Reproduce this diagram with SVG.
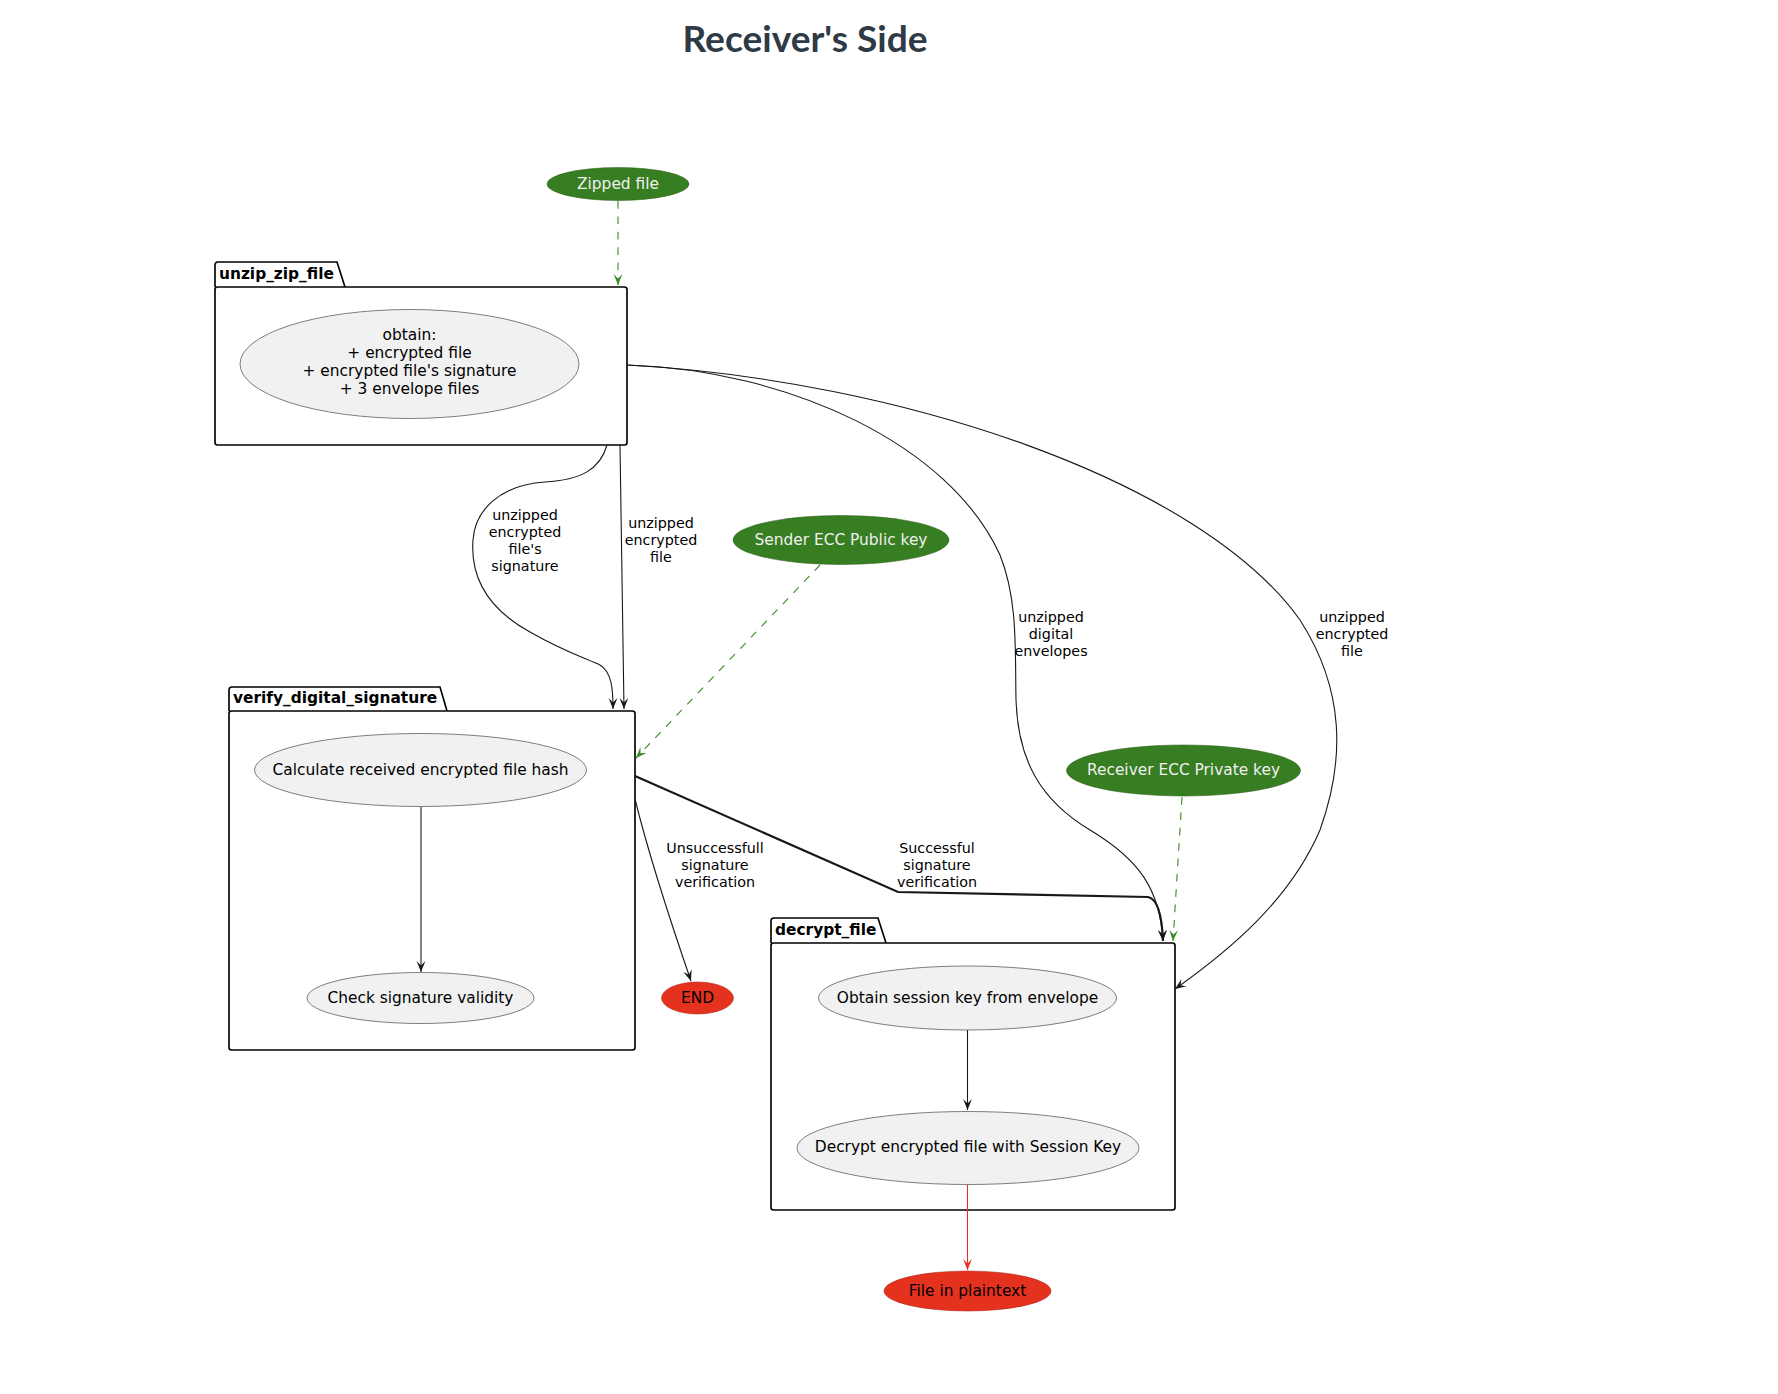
<svg xmlns="http://www.w3.org/2000/svg" width="1778" height="1394" viewBox="0 0 1778 1394">
<style>
text{font-family:"DejaVu Sans",Verdana,sans-serif;}
.uc{fill:#F1F1F1;stroke:#181818;stroke-width:0.55;}
.ucg{fill:#377D22;stroke:#2a5f1a;stroke-width:0.55;}
.ucr{fill:#E5321F;stroke:#a8261a;stroke-width:0.55;}
.t{font-size:15.4px;fill:#000;text-anchor:middle;}
.tw{font-size:15.4px;fill:#F0F0F0;text-anchor:middle;}
.lbl{font-size:14.3px;fill:#000;text-anchor:middle;}
.pk{fill:#FFFFFF;stroke:#000;stroke-width:1.65;}
.pkt{font-size:15.4px;font-weight:bold;fill:#000;}
.e{fill:none;stroke:#181818;stroke-width:1.1;}
.eg{fill:none;stroke:#3A8A24;stroke-width:1.1;stroke-dasharray:7.7,7.7;}
.er{fill:none;stroke:#E5321F;stroke-width:1.1;}
</style>
<defs>
<marker id="ab" viewBox="0 0 12 10" refX="11" refY="5" markerWidth="12" markerHeight="10" orient="auto" markerUnits="userSpaceOnUse"><path d="M0,0.6 L11,5 L0,9.4 L4.4,5 Z" fill="#181818"/></marker>
<marker id="ag" viewBox="0 0 12 10" refX="11" refY="5" markerWidth="12" markerHeight="10" orient="auto" markerUnits="userSpaceOnUse"><path d="M0,0.6 L11,5 L0,9.4 L4.4,5 Z" fill="#3A8A24"/></marker>
<marker id="ar" viewBox="0 0 12 10" refX="11" refY="5" markerWidth="12" markerHeight="10" orient="auto" markerUnits="userSpaceOnUse"><path d="M0,0.6 L11,5 L0,9.4 L4.4,5 Z" fill="#E5321F"/></marker>
</defs>
<rect width="1778" height="1394" fill="#FFFFFF"/>
<text x="805" y="51.5" style="font-family:Lato,'Liberation Sans',sans-serif;font-weight:bold;font-size:37.1px;fill:#2E3A45;text-anchor:middle;">Receiver's Side</text>

<g id="pkg_unzip_zip_file">
<path class="pk" d="M215,287 L215,265 Q215,262 218,262 L337,262 L345,287"/>
<rect class="pk" x="215" y="287" width="412" height="158" rx="2.5"/>
<text class="pkt" x="219" y="278.5">unzip_zip_file</text>
</g>
<g id="pkg_verify_digital_signature">
<path class="pk" d="M229,711 L229,690 Q229,687 232,687 L440,687 L447,711"/>
<rect class="pk" x="229" y="711" width="406" height="339" rx="2.5"/>
<text class="pkt" x="233" y="703">verify_digital_signature</text>
</g>
<g id="pkg_decrypt_file">
<path class="pk" d="M771,943 L771,921 Q771,918 774,918 L878,918 L886,943"/>
<rect class="pk" x="771" y="943" width="404" height="267" rx="2.5"/>
<text class="pkt" x="775" y="934.5">decrypt_file</text>
</g>

<g id="connectors">
<path class="eg" d="M618,201 L618,285" marker-end="url(#ag)"/>
<path class="e" d="M607,445 C600,470 580,480 545,482 C500,485 475,510 473,540 C470,580 490,610 530,632 C565,652 585,658 600,665 C612,672 613,690 613,709" marker-end="url(#ab)"/>
<path class="e" d="M620,445 L624,709" marker-end="url(#ab)"/>
<path class="e" d="M627,365 C790,370 950,445 1000,555 C1018,600 1015,650 1016,700 C1018,760 1040,800 1090,830 C1140,860 1160,890 1163,941" marker-end="url(#ab)"/>
<path class="e" d="M627,365 C900,380 1200,480 1300,620 C1345,690 1345,760 1320,830 C1290,900 1230,950 1175,989" marker-end="url(#ab)"/>
<path class="eg" d="M820,565 L636,758" marker-end="url(#ag)"/>
<path class="e" style="stroke-width:2.2" d="M635,776 L898,892 L1148,897 C1158,899 1162,915 1163,941" marker-end="url(#ab)"/>
<path class="e" d="M635,799 C650,860 670,920 691,981" marker-end="url(#ab)"/>
<path class="eg" d="M1182,797 L1173,941" marker-end="url(#ag)"/>
<path class="e" d="M421,807 L421,972" marker-end="url(#ab)"/>
<path class="e" d="M967.5,1030 L967.5,1110" marker-end="url(#ab)"/>
<path class="er" d="M967.5,1185 L967.5,1270" marker-end="url(#ar)"/>
<text class="lbl" x="525" y="520">unzipped</text>
<text class="lbl" x="525" y="537">encrypted</text>
<text class="lbl" x="525" y="554">file's</text>
<text class="lbl" x="525" y="571">signature</text>
<text class="lbl" x="661" y="528">unzipped</text>
<text class="lbl" x="661" y="545">encrypted</text>
<text class="lbl" x="661" y="562">file</text>
<text class="lbl" x="1051" y="622">unzipped</text>
<text class="lbl" x="1051" y="639">digital</text>
<text class="lbl" x="1051" y="656">envelopes</text>
<text class="lbl" x="1352" y="622">unzipped</text>
<text class="lbl" x="1352" y="639">encrypted</text>
<text class="lbl" x="1352" y="656">file</text>
<text class="lbl" x="715" y="853">Unsuccessfull</text>
<text class="lbl" x="715" y="870">signature</text>
<text class="lbl" x="715" y="887">verification</text>
<text class="lbl" x="937" y="853">Successful</text>
<text class="lbl" x="937" y="870">signature</text>
<text class="lbl" x="937" y="887">verification</text>
</g>

<g id="zipped_file">
<ellipse class="ucg" cx="618" cy="184" rx="71" ry="16.5"/>
<text class="tw" x="618" y="189">Zipped file</text>
</g>
<g id="obtain">
<ellipse class="uc" cx="409.5" cy="364" rx="169.5" ry="54.5"/>
<text class="t" x="409.5" y="340">obtain:</text>
<text class="t" x="409.5" y="358">+ encrypted file</text>
<text class="t" x="409.5" y="376">+ encrypted file's signature</text>
<text class="t" x="409.5" y="394">+ 3 envelope files</text>
</g>
<g id="sender_key">
<ellipse class="ucg" cx="841" cy="540" rx="108" ry="24.5"/>
<text class="tw" x="841" y="544.5">Sender ECC Public key</text>
</g>
<g id="calc_hash">
<ellipse class="uc" cx="420.5" cy="770" rx="166" ry="36.5"/>
<text class="t" x="420.5" y="774.5">Calculate received encrypted file hash</text>
</g>
<g id="check_validity">
<ellipse class="uc" cx="420.5" cy="998" rx="113.5" ry="25.5"/>
<text class="t" x="420.5" y="1002.5">Check signature validity</text>
</g>
<g id="end">
<ellipse class="ucr" cx="697.5" cy="998" rx="36" ry="16"/>
<text class="t" x="697.5" y="1002.5">END</text>
</g>
<g id="receiver_key">
<ellipse class="ucg" cx="1183.5" cy="770.5" rx="117" ry="25.5"/>
<text class="tw" x="1183.5" y="775">Receiver ECC Private key</text>
</g>
<g id="obtain_session_key">
<ellipse class="uc" cx="967.5" cy="998" rx="149" ry="32"/>
<text class="t" x="967.5" y="1002.5">Obtain session key from envelope</text>
</g>
<g id="decrypt_with_key">
<ellipse class="uc" cx="968" cy="1148" rx="171" ry="36.5"/>
<text class="t" x="968" y="1151.5">Decrypt encrypted file with Session Key</text>
</g>
<g id="file_plaintext">
<ellipse class="ucr" cx="967.5" cy="1291" rx="83.5" ry="20"/>
<text class="t" x="967.5" y="1295.5">File in plaintext</text>
</g>
</svg>
